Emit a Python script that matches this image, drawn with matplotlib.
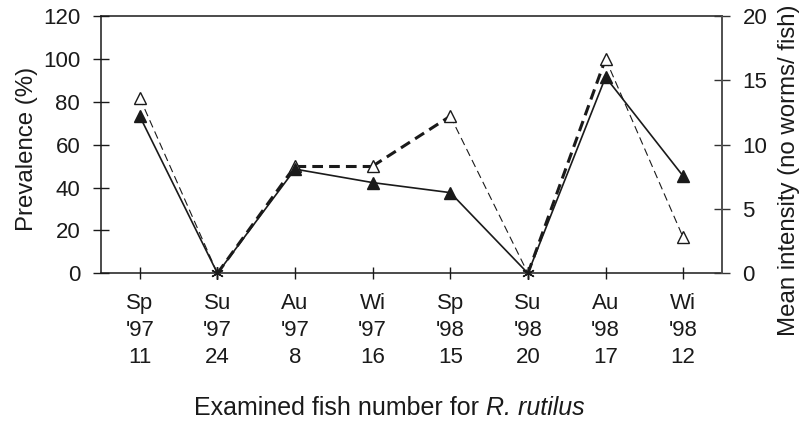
import numpy as np
import matplotlib
matplotlib.use("Agg")
import matplotlib.pyplot as plt

plt.rcParams['font.family'] = ['Liberation Sans', 'DejaVu Sans']

# ---- data ----
seasons = ['Sp', 'Su', 'Au', 'Wi', 'Sp', 'Su', 'Au', 'Wi']
years = ["'97", "'97", "'97", "'97", "'98", "'98", "'98", "'98"]
n_fish = [11, 24, 8, 16, 15, 20, 17, 12]
prevalence = [81.8, 0, 50.0, 50.0, 73.3, 0, 100.0, 16.7]      # left axis (%)
intensity = [12.2, 0, 8.1, 7.05, 6.27, 0, 15.25, 7.55]        # right axis
xlabel_main = "Examined fish number for"
species = "R. rutilus"

W, H = 803, 428
fig = plt.figure(figsize=(W / 100, H / 100), dpi=100)
ax = fig.add_axes([101 / W, 1 - 273.3 / H, (722 - 101) / W, (273.3 - 16) / H])
ax2 = ax.twinx()

x = np.arange(1, len(seasons) + 1)
prev = np.array(prevalence, dtype=float)
inten = np.array(intensity, dtype=float)
ink = '#1a1a1a'

# prevalence: dashed, open triangles (thicker dash on rising segments as in original)
for i in range(len(x) - 1):
    thick = prev[i + 1] >= prev[i]
    ax.plot(x[i:i + 2], prev[i:i + 2], color=ink,
            lw=2.2 if thick else 0.8,
            dashes=(3.5, 2.0) if thick else (7, 4), zorder=2)
pm = np.where(prev > 0, prev, np.nan)
ax.plot(x, pm, ls='none', marker='^', ms=9, mfc='white', mec=ink, mew=1.0, zorder=3)

# intensity: solid, filled triangles
ax2.plot(x, inten, color=ink, lw=1.2, zorder=2)
im = np.where(inten > 0, inten, np.nan)
ax2.plot(x, im, ls='none', marker='^', ms=9, mfc=ink, mec=ink, zorder=3)

# zero points: asterisk
zm = np.where(prev == 0, prev, np.nan)
ax.plot(x, zm, ls='none', marker=(6, 2, 0), ms=9, mec=ink, mew=1.0, zorder=4, clip_on=False)

ax.set_xlim(0.5, len(x) + 0.5)
ax.set_ylim(0, 120)
ax.set_yticks(np.arange(0, 121, 20))
ax2.set_ylim(0, 20)
ax2.set_yticks(np.arange(0, 21, 5))

ax.set_xticks(x)
ax.set_xticklabels([f"{s}\n{y}\n{n}" for s, y, n in zip(seasons, years, n_fish)],
                   linespacing=1.36)

fs = 16
lfs = 17.3
ax.tick_params(axis='y', direction='inout', length=12, width=1.0, pad=9,
               labelsize=fs, colors=ink)
ax.tick_params(axis='x', direction='inout', length=8.5, width=1.0, pad=10,
               labelsize=fs, colors=ink)
ax2.tick_params(axis='y', direction='inout', length=11.5, width=1.0, pad=9,
                labelsize=fs, colors='#333333')
ax2.tick_params(axis='y', labelcolor=ink)

for sp in ax.spines.values():
    sp.set_color(ink)
    sp.set_linewidth(1.1)
ax2.spines['right'].set_color('#555555')
ax2.spines['right'].set_linewidth(1.1)
for k in ['left', 'top', 'bottom']:
    ax2.spines[k].set_visible(False)

fig.text(27 / W, 1 - 148.5 / H, "Prevalence (%)", rotation=90,
         ha='center', va='center', fontsize=lfs, color=ink)
fig.text(789 / W, 1 - 170 / H, "Mean intensity (no worms/ fish)", rotation=90,
         ha='center', va='center', fontsize=lfs, color=ink)

# x label: regular part + italic species name, centred as a whole
xfs = 18
renderer = fig.canvas.get_renderer()
t1 = fig.text(0, 1 - 415 / H, xlabel_main, ha='left', va='baseline', fontsize=xfs, color=ink)
t2 = fig.text(0, 1 - 415 / H, species, ha='left', va='baseline', fontsize=xfs,
              color=ink, style='italic')
tmp_a = fig.text(0, 0, "aa", fontsize=xfs)
tmp_b = fig.text(0, 0, "a a", fontsize=xfs)
space_w = tmp_b.get_window_extent(renderer).width - tmp_a.get_window_extent(renderer).width
tmp_a.remove(); tmp_b.remove()
w1 = t1.get_window_extent(renderer).width
w2 = t2.get_window_extent(renderer).width
total = w1 + space_w + w2
x0 = 389 - total / 2
t1.set_x(x0 / W)
t2.set_x((x0 + w1 + space_w) / W)

fig.savefig("out.png", dpi=100)
